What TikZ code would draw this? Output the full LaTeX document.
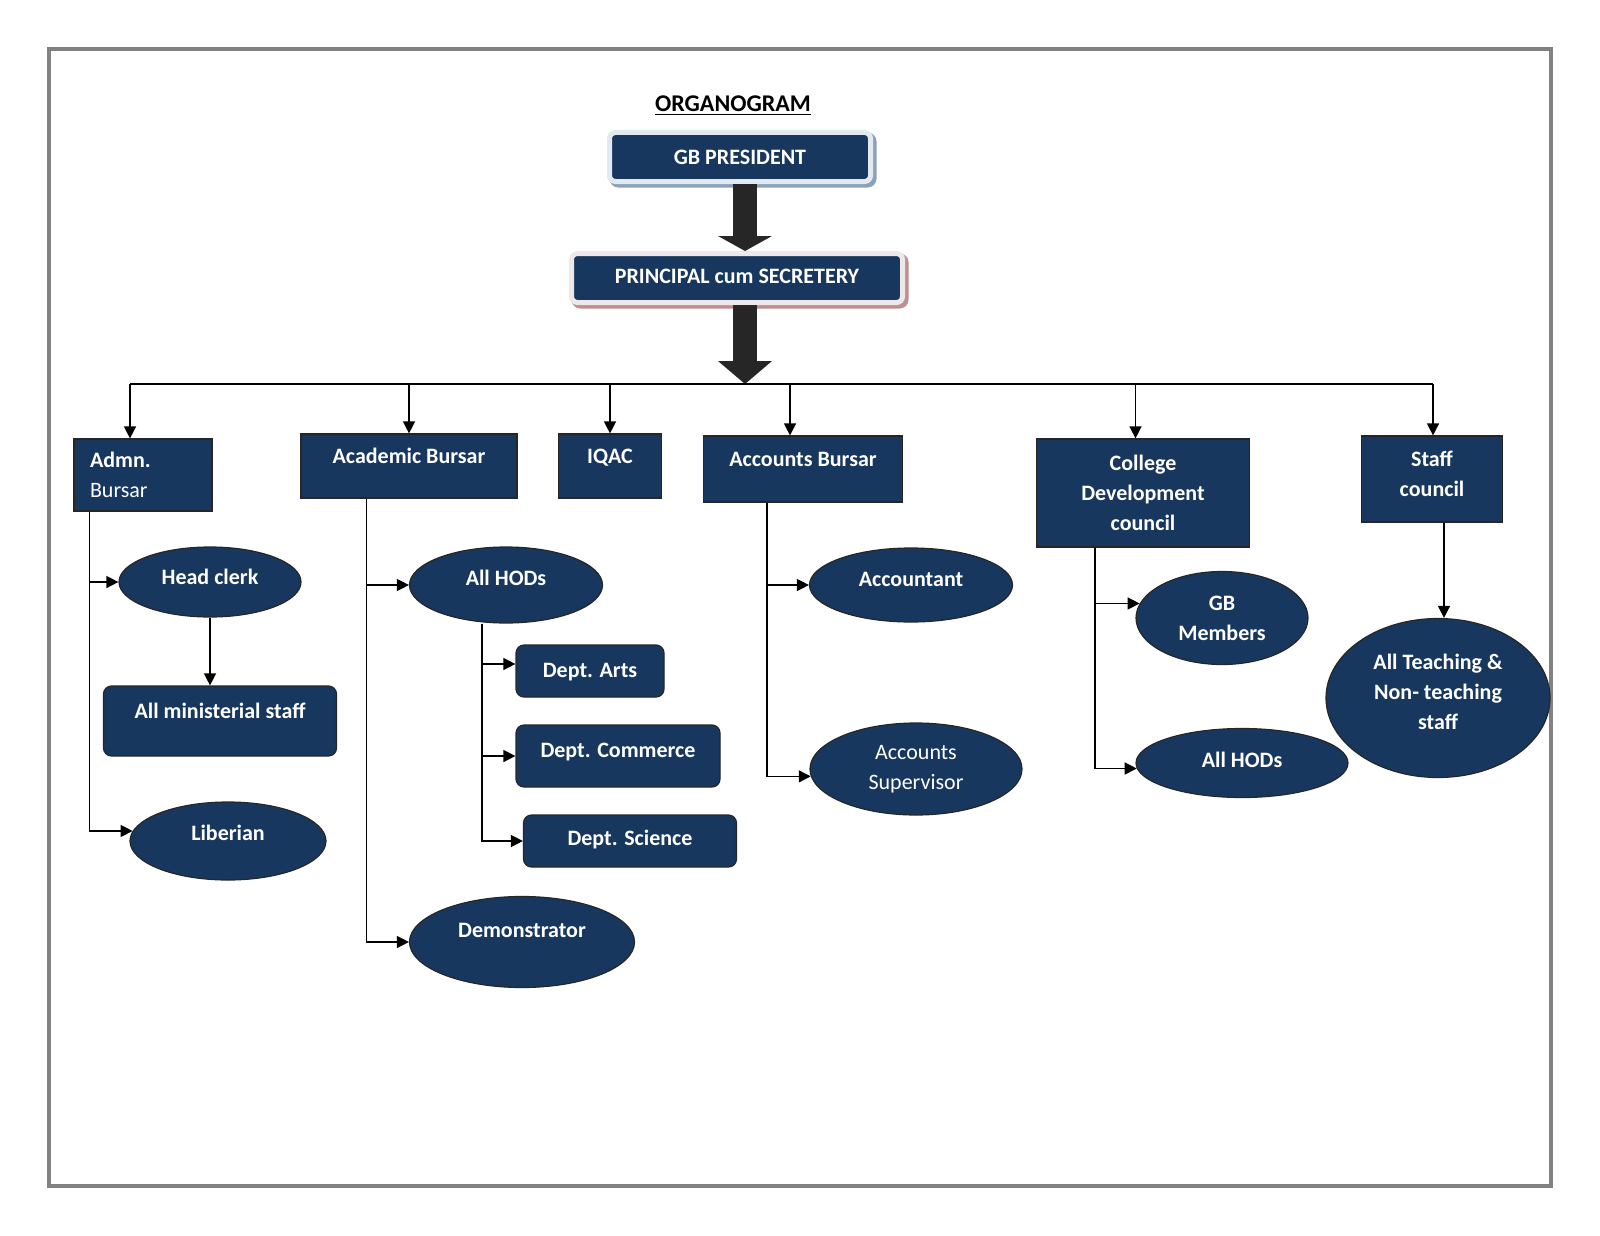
\documentclass[tikz,border=0pt]{standalone}
\usepackage{fontspec}
\setmainfont{Carlito}
\usetikzlibrary{arrows.meta}
\usetikzlibrary{shapes.geometric}
\definecolor{navy}{RGB}{24,55,94}
\definecolor{framegray}{RGB}{130,130,130}
\definecolor{glowblue}{RGB}{226,233,241}
\definecolor{shadeblue}{RGB}{140,162,184}
\definecolor{glowpink}{RGB}{240,232,232}
\definecolor{shadepink}{RGB}{188,144,144}
\definecolor{blockgray}{RGB}{38,38,38}
\newcommand{\nfont}{\fontsize{11}{15}\selectfont}

\begin{document}
\begin{tikzpicture}[x=0.5pt,y=-0.5pt,
    box/.style={rectangle, draw=black!85, line width=0.6pt, fill=navy, text=white, font=\nfont\bfseries, align=center, inner sep=0pt},
    rbox/.style={box, rounded corners=4pt},
    oval/.style={ellipse, draw=black!85, line width=0.6pt, fill=navy, text=white, font=\nfont\bfseries, align=center, inner sep=0pt},
    lift/.style={text height=8pt, text depth=#1},
    topbox/.style 2 args={box, rounded corners=3pt, draw=#1, line width=2.5pt, preaction={draw=#2, line width=3pt, transform canvas={shift={(1.5pt,-1.5pt)}}}},
    link/.style={line width=0.7pt, -{Triangle[length=6pt,width=6pt]}},
    bigarrow/.style={line width=12pt, draw=blockgray, -{Triangle[length=#1,width=27pt,line width=0pt]}}
  ]
    \useasboundingbox (0,0) rectangle (1600,1236);
    %Frame
    \draw [framegray, line width=2pt] (49,49) rectangle (1551,1186);
    %Title
    \node [font=\fontsize{12}{14}\selectfont\bfseries] (title) at (733,106) {\underline{ORGANOGRAM}};
    %Top boxes
    \node [topbox={glowblue}{shadeblue}, minimum width=130.5pt, minimum height=24.5pt, lift=1pt] (pres) at (740,157) {GB PRESIDENT};
    \node [topbox={glowpink}{shadepink}, minimum width=165.5pt, minimum height=24.5pt, lift=2.5pt] (princ) at (737,278) {PRINCIPAL cum SECRETERY};
    \coordinate (bus) at (745,384);
    \coordinate (busL) at (130,384);
    \coordinate (busR) at (1433,384);
    %Block arrows
    \draw [bigarrow=7.5pt] ([xshift=2.5pt]pres.south) -- ([xshift=2.5pt]pres.south |- princ.north);
    \draw [bigarrow=11.5pt] (princ.south -| bus) -- (bus);
    %Second row boxes
    \node [box, align=left, text width=53pt, inner xsep=8pt, minimum height=36pt] (admn) at (143,475) {Admn.\\{\mdseries Bursar}};
    \node [box, minimum width=108pt, minimum height=32pt, lift=11pt] (acad) at (409,466) {Academic Bursar};
    \node [box, minimum width=51.5pt, minimum height=32pt, lift=11pt] (iqac) at (610,466) {IQAC};
    \node [box, minimum width=99.5pt, minimum height=33pt, lift=11pt] (accb) at (803,469) {Accounts Bursar};
    \node [box, minimum width=106.5pt, minimum height=54pt] (cdc) at (1143,493) {College\\Development\\council};
    \node [box, minimum width=70.5pt, minimum height=43pt, text depth=5pt] (staff) at (1432,479) {Staff\\council};
    %Bus line and drops
    \draw [line width=0.7pt] (busL) -- (busR);
    \draw [link] (busL) -- (busL |- admn.north);
    \draw [link] (acad.north |- bus) -- (acad.north);
    \draw [link] (iqac.north |- bus) -- (iqac.north);
    \draw [link] ([xshift=-6.5pt]accb.north |- bus) -- ([xshift=-6.5pt]accb.north);
    \draw [link] ([xshift=-3.75pt]cdc.north |- bus) -- ([xshift=-3.75pt]cdc.north);
    \draw [link] (busR) -- (busR |- staff.north);
    %Admn. branch
    \node [oval, minimum width=91pt, minimum height=35pt, lift=6pt] (hclerk) at (210,582) {Head clerk};
    \node [rbox, minimum width=116.5pt, minimum height=35pt, lift=11pt] (minist) at (220,721) {All ministerial staff};
    \node [oval, minimum width=98pt, minimum height=39pt, lift=9pt] (liber) at (228,841) {Liberian};
    \draw [link] ([xshift=8pt]admn.south west) |- (hclerk.west);
    \draw [link] ([xshift=8pt]admn.south west) |- (liber.174);
    \draw [link] (hclerk.south) -- (hclerk.south |- minist.north);
    %Academic branch
    \node [oval, minimum width=96.5pt, minimum height=38pt, lift=8pt] (hods1) at (506,585) {All HODs};
    \node [rbox, minimum width=74pt, minimum height=26pt, lift=2pt] (arts) at (590,671) {Dept. Arts};
    \node [rbox, minimum width=102pt, minimum height=31pt, lift=7pt] (comm) at (618,756) {Dept. Commerce};
    \node [rbox, minimum width=106.5pt, minimum height=26pt, lift=4pt] (sci) at (630,841) {Dept. Science};
    \node [oval, minimum width=112.5pt, minimum height=45.5pt, lift=13pt] (demo) at (522,942) {Demonstrator};
    \draw [link] ([xshift=33pt]acad.south west) |- (hods1.west);
    \draw [link] ([xshift=33pt]acad.south west) |- (demo.west);
    \draw [link] ([xshift=-12pt]hods1.south) |- ([yshift=3.5pt]arts.west);
    \draw [link] ([xshift=-12pt]hods1.south) |- (comm.west);
    \draw [link] ([xshift=-12pt]hods1.south) |- (sci.west);
    %Accounts branch
    \node [oval, minimum width=101.5pt, minimum height=37pt, lift=7pt] (acct) at (911,585) {Accountant};
    \node [oval, font=\nfont, minimum width=106pt, minimum height=46pt] (accsup) at (916,769) {Accounts\\Supervisor};
    \draw [link] ([xshift=32pt]accb.south west) |- (acct.west);
    \draw [link] ([xshift=32pt]accb.south west) |- (accsup.184);
    %College branch
    \node [oval, minimum width=86pt, minimum height=46.5pt] (gbm) at (1222,618) {GB\\Members};
    \node [oval, minimum width=106pt, minimum height=34.5pt, lift=4pt] (hods2) at (1242,763) {All HODs};
    \draw [link] ([xshift=29.5pt]cdc.south west) |- (gbm.170);
    \draw [link] ([xshift=29.5pt]cdc.south west) |- (hods2.183);
    %Staff branch
    \node [oval, minimum width=112pt, minimum height=79.5pt, text depth=6pt] (allstaff) at (1438,698) {All Teaching \&\\Non- teaching\\staff};
    \draw [link] ([xshift=6pt]staff.south) -- ([xshift=6pt]staff.south |- allstaff.north);
\end{tikzpicture}
\end{document}
